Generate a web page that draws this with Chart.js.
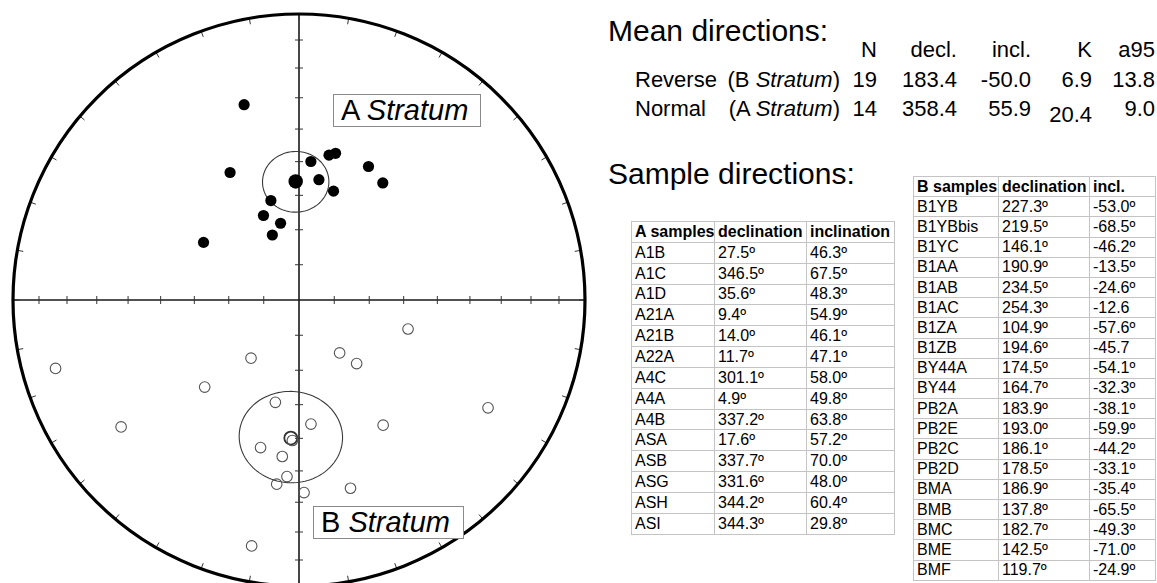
<!DOCTYPE html>
<html>
<head>
<meta charset="utf-8">
<script src="https://cdn.jsdelivr.net/npm/chart.js@4.4.1/dist/chart.umd.min.js"></script>
<style>
    html, body { margin: 0; padding: 0; background: #fff; }
    body { width: 1157px; height: 583px; overflow: hidden; position: relative;
           font-family: "Liberation Sans", Arial, sans-serif; color: #000; }
    #net { position: absolute; left: 0; top: 0; width: 600px; height: 583px; overflow: hidden; }
    .abs { position: absolute; white-space: nowrap; }
    .label-box { position: absolute; border: 1px solid #8a8a8a; background: #fff;
                 font-size: 29px; line-height: 30px; padding: 0 7px; box-sizing: border-box; }
    .title { font-size: 30px; line-height: 36px; }
    .mean { font-size: 22px; line-height: 26px; }
    .num { text-align: right; width: 90px; }
    table { position: absolute; border-collapse: collapse; font-size: 16px; table-layout: fixed; }
    td, th { border: 1px solid #c4c4c4; padding: 0 0 0 3px; text-align: left;
             line-height: 18px; white-space: nowrap; overflow: hidden; }
    th { font-weight: bold; }
    #tabA td, #tabA th { height: 19.85px; }
    #tabB td, #tabB th { height: 19.2px; }
</style>
</head>
<body>
<div id="net"><canvas id="netChart" width="600" height="600"></canvas></div>
<div class="label-box" style="left:333px; top:94px; width:148px; height:33px;">A <i>Stratum</i></div>
<div class="label-box" style="left:313px; top:506px; width:151px; height:33px;">B <i>Stratum</i></div>
<div id="text"></div>

<script>
// Sample directions (declination, inclination in degrees)
const aNames = ['A1B', 'A1C', 'A1D', 'A21A', 'A21B', 'A22A', 'A4C', 'A4A', 'A4B', 'ASA', 'ASB', 'ASG', 'ASH', 'ASI'];
const aDecl = [27.5, 346.5, 35.6, 9.4, 14.0, 11.7, 301.1, 4.9, 337.2, 17.6, 337.7, 331.6, 344.2, 344.3];
const aIncl = [46.3, 67.5, 48.3, 54.9, 46.1, 47.1, 58.0, 49.8, 63.8, 57.2, 70.0, 48.0, 60.4, 29.8];

const bNames = ['B1YB', 'B1YBbis', 'B1YC', 'B1AA', 'B1AB', 'B1AC', 'B1ZA', 'B1ZB', 'BY44A', 'BY44',
    'PB2A', 'PB2E', 'PB2C', 'PB2D', 'BMA', 'BMB', 'BMC', 'BME', 'BMF'];
const bDecl = [227.3, 219.5, 146.1, 190.9, 234.5, 254.3, 104.9, 194.6, 174.5, 164.7,
    183.9, 193.0, 186.1, 178.5, 186.9, 137.8, 182.7, 142.5, 119.7];
const bIncl = [-53.0, -68.5, -46.2, -13.5, -24.6, -12.6, -57.6, -45.7, -54.1, -32.3,
    -38.1, -59.9, -44.2, -33.1, -35.4, -65.5, -49.3, -71.0, -24.9];
// text shown in the incl. column (two values have no degree sign)
const bInclText = ['-53.0º', '-68.5º', '-46.2º', '-13.5º', '-24.6º', '-12.6', '-57.6º', '-45.7', '-54.1º', '-32.3º',
    '-38.1º', '-59.9º', '-44.2º', '-33.1º', '-35.4º', '-65.5º', '-49.3º', '-71.0º', '-24.9º'];

// Mean directions
const meanKind = ['Reverse', 'Normal'];
const meanGroup = ['B', 'A'];
const meanN = [19, 14];
const meanDecl = [183.4, 358.4];
const meanIncl = [-50.0, 55.9];
const meanK = [6.9, 20.4];
const meanA95 = [13.8, 9.0];

// Net graticule
const inclTicks = [10, 20, 30, 40, 50, 60, 70, 80];
const declTicks = Array.from({ length: 36 }, (_, i) => i * 10);

const rad = d => d * Math.PI / 180;

// Lambert equal-area projection, |inclination| plotted
const project = (dec, inc) => {
    const r = Math.SQRT2 * Math.sin(rad(90 - Math.abs(inc)) / 2);
    return { x: r * Math.sin(rad(dec)), y: r * Math.cos(rad(dec)) };
};

// points of the a95 cone around a mean direction
const coneRing = (dec, inc, a95) => {
    const D = rad(dec), I = rad(Math.abs(inc)), a = rad(a95);
    const m = [Math.cos(I) * Math.cos(D), Math.cos(I) * Math.sin(D), Math.sin(I)];
    const u = [-Math.sin(I) * Math.cos(D), -Math.sin(I) * Math.sin(D), Math.cos(I)];
    const v = [-Math.sin(D), Math.cos(D), 0];
    const pts = [];
    for (let t = 0; t <= 360; t += 3) {
        const c = Math.cos(rad(t)), s = Math.sin(rad(t));
        const p = [0, 1, 2].map(k => Math.cos(a) * m[k] + Math.sin(a) * (c * u[k] + s * v[k]));
        const pInc = Math.asin(p[2]) * 180 / Math.PI;
        const pDec = Math.atan2(p[1], p[0]) * 180 / Math.PI;
        pts.push(project(pDec, pInc));
    }
    return pts;
};

const netPlugin = {
    id: 'net',
    beforeDatasetsDraw(chart) {
        const { ctx, scales: { x, y } } = chart;
        const cx = x.getPixelForValue(0), cy = y.getPixelForValue(0);
        const R = x.getPixelForValue(1) - cx;
        ctx.save();

        // cross
        ctx.strokeStyle = '#1a1a1a';
        ctx.lineWidth = 1.6;
        ctx.beginPath();
        ctx.moveTo(x.getPixelForValue(-1), cy); ctx.lineTo(x.getPixelForValue(1), cy);
        ctx.moveTo(cx, y.getPixelForValue(1)); ctx.lineTo(cx, y.getPixelForValue(-1));
        ctx.stroke();

        // inclination ticks along both axes
        ctx.lineWidth = 1;
        ctx.strokeStyle = '#333';
        ctx.beginPath();
        inclTicks.forEach(inc => {
            const r = project(0, inc).y;
            [-r, r].forEach(v => {
                const px = x.getPixelForValue(v), py = y.getPixelForValue(v);
                ctx.moveTo(px, cy - 4); ctx.lineTo(px, cy + 4);
                ctx.moveTo(cx - 4, py); ctx.lineTo(cx + 4, py);
            });
        });
        // declination ticks on the primitive
        declTicks.forEach(dec => {
            const s = Math.sin(rad(dec)), c = Math.cos(rad(dec));
            ctx.moveTo(cx + s * R, cy - c * R);
            ctx.lineTo(cx + s * (R - 6), cy - c * (R - 6));
        });
        ctx.stroke();

        // a95 cones
        ctx.strokeStyle = '#3a3a3a';
        ctx.lineWidth = 1.1;
        meanDecl.forEach((dec, i) => {
            const ring = coneRing(dec, meanIncl[i], meanA95[i]);
            ctx.beginPath();
            ring.forEach((p, k) => {
                const px = x.getPixelForValue(p.x), py = y.getPixelForValue(p.y);
                k ? ctx.lineTo(px, py) : ctx.moveTo(px, py);
            });
            ctx.closePath();
            ctx.stroke();
        });

        // primitive circle
        ctx.strokeStyle = '#000';
        ctx.lineWidth = 3.2;
        ctx.beginPath();
        ctx.arc(cx, cy, R, 0, Math.PI * 2);
        ctx.stroke();
        ctx.restore();
    }
};

const initNet = () => {
    const ctx = document.getElementById('netChart').getContext('2d');
    new Chart(ctx, {
        type: 'scatter',
        data: {
            datasets: [
                {
                    label: 'B samples',
                    data: bDecl.map((d, i) => project(d, bIncl[i])),
                    pointRadius: 5.3,
                    backgroundColor: 'rgba(255,255,255,0)',
                    borderColor: '#555',
                    borderWidth: 1.1
                },
                {
                    label: 'B mean',
                    data: [project(meanDecl[0], meanIncl[0])],
                    pointRadius: 6.5,
                    backgroundColor: 'rgba(255,255,255,0)',
                    borderColor: '#333',
                    borderWidth: 1.8
                },
                {
                    label: 'A samples',
                    data: aDecl.map((d, i) => project(d, aIncl[i])),
                    pointRadius: 5.6,
                    backgroundColor: '#000',
                    borderColor: '#000',
                    borderWidth: 0
                },
                {
                    label: 'A mean',
                    data: [project(meanDecl[1], meanIncl[1])],
                    pointRadius: 7.2,
                    backgroundColor: '#000',
                    borderColor: '#000',
                    borderWidth: 0
                }
            ]
        },
        options: {
            responsive: false,
            animation: false,
            layout: { padding: { left: 13, right: 15, top: 14, bottom: 14 } },
            plugins: { legend: { display: false }, tooltip: { enabled: false } },
            scales: {
                x: { type: 'linear', min: -1, max: 1, display: false },
                y: { type: 'linear', min: -1, max: 1, display: false }
            }
        },
        plugins: [netPlugin]
    });
};

// Text blocks
const place = (html, cls, left, top, extra = '') =>
    `<div class="abs ${cls}" style="left:${left}px; top:${top}px; ${extra}">${html}</div>`;

const buildText = () => {
    const cols = [877, 957, 1031, 1092, 1155];
    const heads = ['N', 'decl.', 'incl.', 'K', 'a95'];
    let html = place('Mean directions:', 'title', 608, 13);
    html += place('Sample directions:', 'title', 608, 156);

    heads.forEach((h, i) => { html += place(h, 'mean num', cols[i] - 90, 37); });

    meanKind.forEach((kind, r) => {
        const top = 67 + r * 29;
        html += place(kind, 'mean', 635, top);
        html += place(`(${meanGroup[r]} <i>Stratum</i>)`, 'mean num', 840 - 130, top, 'width:130px;');
        const vals = [String(meanN[r]), meanDecl[r].toFixed(1), meanIncl[r].toFixed(1),
            meanK[r].toFixed(1), meanA95[r].toFixed(1)];
        vals.forEach((v, i) => {
            const nudge = (r === 1 && i === 3) ? 6 : 0;
            html += place(v, 'mean num', cols[i] - 90, top + nudge);
        });
    });

    // A table
    let a = '<table id="tabA" style="left:631px; top:221px; width:263px;"><colgroup><col style="width:83px"><col style="width:92px"><col style="width:88px"></colgroup>';
    a += '<tr><th>A samples</th><th>declination</th><th>inclination</th></tr>';
    aNames.forEach((n, i) => {
        a += `<tr><td>${n}</td><td>${aDecl[i].toFixed(1)}º</td><td>${aIncl[i].toFixed(1)}º</td></tr>`;
    });
    a += '</table>';

    // B table
    let b = '<table id="tabB" style="left:913px; top:176px; width:242px;"><colgroup><col style="width:85px"><col style="width:91px"><col style="width:66px"></colgroup>';
    b += '<tr><th>B samples</th><th>declination</th><th>incl.</th></tr>';
    bNames.forEach((n, i) => {
        b += `<tr><td>${n}</td><td>${bDecl[i].toFixed(1)}º</td><td>${bInclText[i]}</td></tr>`;
    });
    b += '</table>';

    document.getElementById('text').innerHTML = html + a + b;
};

document.addEventListener('DOMContentLoaded', () => {
    initNet();
    buildText();
});
</script>
</body>
</html>
